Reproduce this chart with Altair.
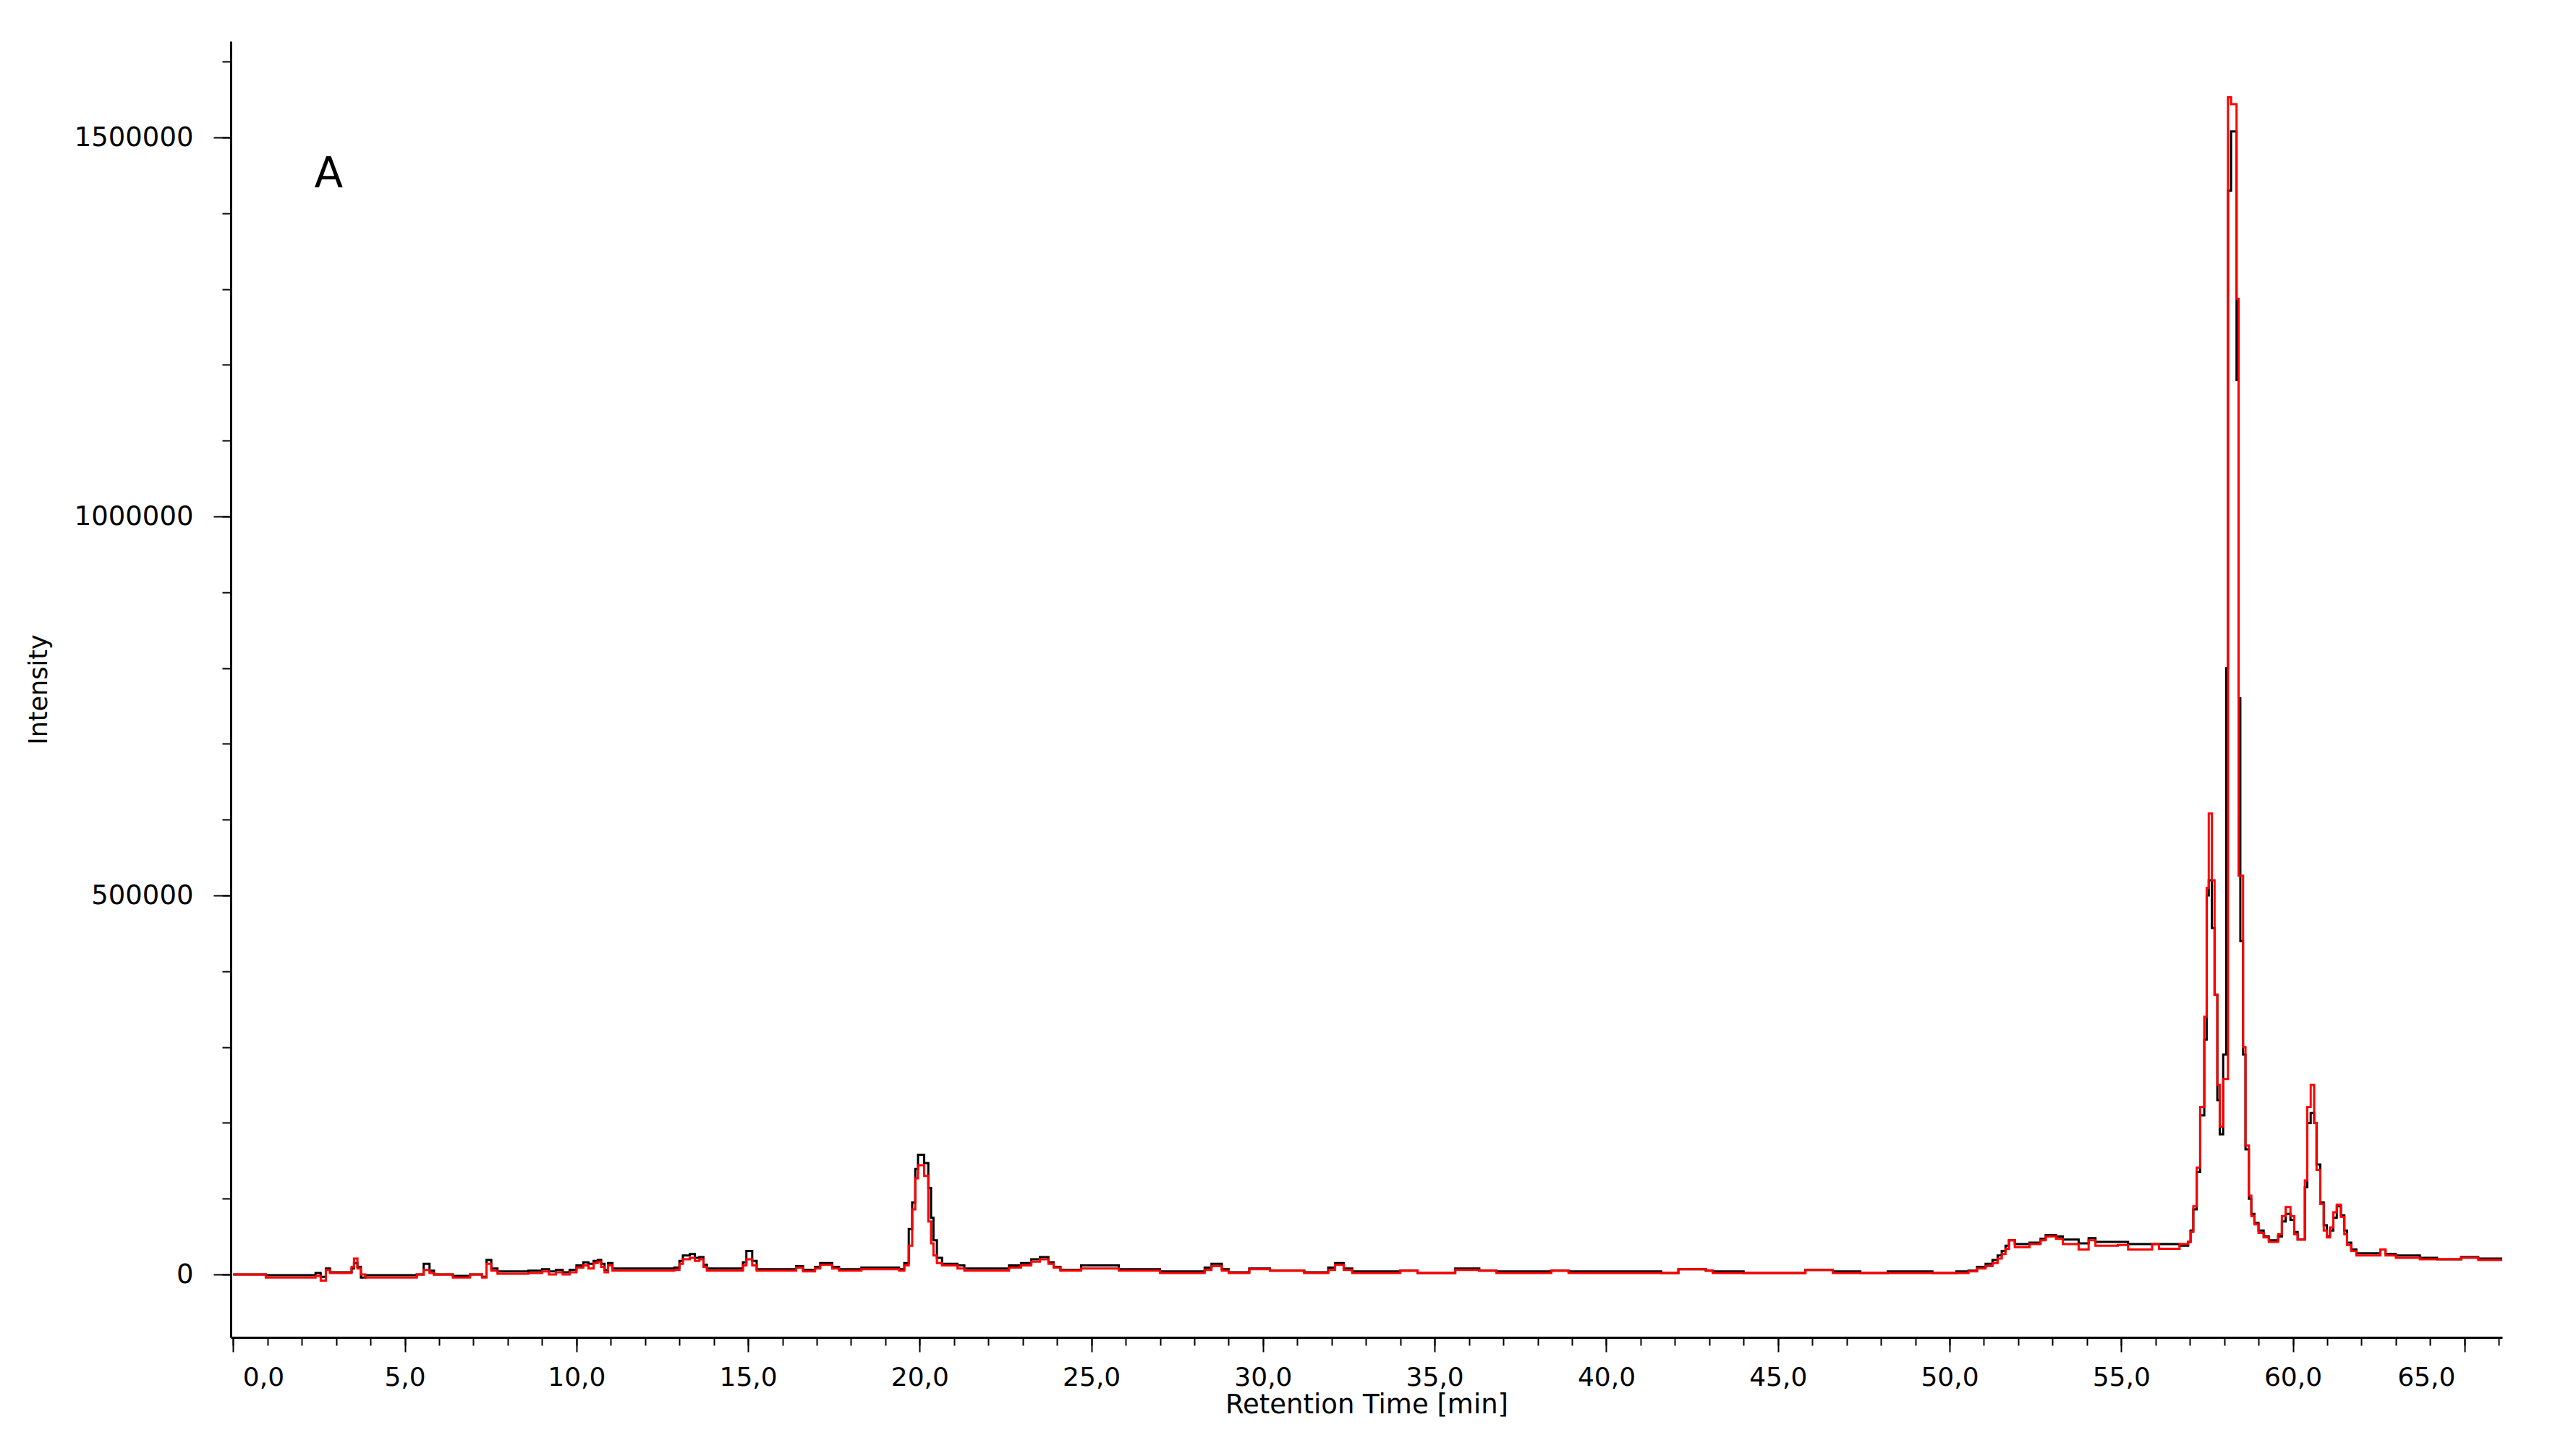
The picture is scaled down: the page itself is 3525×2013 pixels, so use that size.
import altair as alt
import pandas as pd

# Retention time (min) of each step start
time_min = [
    0.00, 0.95, 2.40, 2.55, 2.70, 2.82, 3.45, 3.52, 3.62, 3.72, 3.85, 5.35, 5.55, 5.72, 5.85,
    6.40, 6.90, 7.25, 7.38, 7.52, 7.70, 8.60, 9.00, 9.20, 9.40, 9.60, 9.80, 10.00, 10.20, 10.35,
    10.50, 10.62, 10.72, 10.82, 10.92, 11.05, 12.85, 13.00, 13.10, 13.30, 13.45, 13.58, 13.70, 13.80, 14.85,
    14.95, 15.12, 15.25, 16.40, 16.60, 16.95, 17.10, 17.45, 17.65, 18.30, 19.40, 19.55, 19.68, 19.78, 19.87,
    19.95, 20.13, 20.25, 20.33, 20.40, 20.50, 20.65, 21.10, 21.30, 22.60, 22.95, 23.25, 23.50, 23.75, 23.90,
    24.10, 24.70, 25.80, 27.00, 28.30, 28.50, 28.80, 29.00, 29.60, 30.20, 31.20, 31.90, 32.10, 32.35, 32.60,
    34.00, 34.50, 35.60, 36.30, 36.80, 38.40, 38.90, 41.60, 42.10, 42.90, 43.10, 44.00, 45.80, 46.60, 47.40,
    48.20, 49.50, 50.20, 50.55, 50.80, 51.05, 51.25, 51.40, 51.52, 51.63, 51.73, 51.90, 52.33, 52.65, 52.80,
    53.10, 53.30, 53.76, 54.05, 54.25, 54.90, 55.20, 55.90, 56.10, 56.70, 56.95, 57.02, 57.10, 57.20, 57.30,
    57.42, 57.49, 57.55, 57.64, 57.72, 57.80, 57.87, 57.97, 58.06, 58.11, 58.20, 58.36, 58.42, 58.47, 58.55,
    58.62, 58.72, 58.79, 58.88, 59.00, 59.15, 59.30, 59.57, 59.68, 59.79, 59.93, 60.04, 60.14, 60.35, 60.42,
    60.52, 60.62, 60.69, 60.80, 60.90, 60.99, 61.08, 61.18, 61.28, 61.40, 61.50, 61.58, 61.70, 61.85, 62.55,
    62.70, 63.00, 63.70, 64.20, 64.90, 65.40, 66.10,
]

# Red trace intensity
red_intensity = [
    0, -4000, -2000, -8000, 6000, 2000, 10000, 21000, 8000, 0, -4000, 0, 6000, 2000, 0,
    -4000, 0, -4000, 14000, 5000, 1000, 2000, 4000, 0, 3000, 0, 3000, 9000, 12000, 8000,
    15000, 17000, 10000, 3000, 12000, 5000, 6000, 14000, 20000, 22000, 18000, 20000, 10000, 5000, 12000,
    20000, 12000, 5000, 9000, 4000, 8000, 13000, 8000, 5000, 7000, 5000, 12000, 38000, 86000, 127000,
    144000, 130000, 70000, 41000, 25000, 15000, 12000, 8000, 5000, 9000, 12000, 17000, 20000, 14000, 9000,
    5000, 8000, 5000, 2000, 6000, 11000, 5000, 2000, 7000, 5000, 2000, 6000, 13000, 6000, 2000,
    5000, 2000, 6000, 5000, 2000, 5000, 2000, 2000, 7000, 5000, 2000, 2000, 6000, 2000, 2000,
    2000, 2000, 2000, 4000, 8000, 11000, 15000, 21000, 27000, 34000, 45000, 36000, 40000, 45000, 50000,
    47000, 40000, 33000, 45000, 38000, 39000, 33000, 40000, 34000, 40000, 43000, 56000, 90000, 141000, 221000,
    340000, 510000, 608000, 520000, 369000, 250000, 195000, 258000, 258000, 1553000, 1544000, 1287000, 526000, 526000, 300000,
    170000, 104000, 77000, 66000, 55000, 49000, 43000, 53000, 77000, 89000, 77000, 53000, 46000, 124000, 221000,
    250000, 200000, 138000, 93000, 58000, 49000, 62000, 82000, 92000, 76000, 53000, 39000, 31000, 25000, 33000,
    25000, 22000, 20000, 20000, 22000, 19000, 19000,
]

# Black trace intensity
black_intensity = [
    0, -1000, 2000, -3000, 8000, 3000, 8000, 15000, 10000, -4000, -1000, 0, 14000, 5000, 0,
    -2000, 0, -3000, 19000, 8000, 4000, 5000, 7000, 4000, 6000, 3000, 6000, 12000, 16000, 14000,
    18000, 19000, 14000, 6000, 15000, 8000, 9000, 18000, 25000, 27000, 22000, 23000, 13000, 8000, 16000,
    31000, 18000, 7000, 11000, 6000, 10000, 15000, 10000, 7000, 9000, 7000, 15000, 60000, 95000, 139000,
    158000, 147000, 114000, 75000, 45000, 22000, 14000, 12000, 8000, 12000, 15000, 20000, 23000, 16000, 10000,
    6000, 12000, 7000, 4000, 9000, 14000, 7000, 3000, 8000, 5000, 3000, 9000, 15000, 8000, 4000,
    5000, 2000, 8000, 5000, 4000, 5000, 4000, 2000, 7000, 5000, 4000, 2000, 6000, 4000, 2000,
    4000, 2000, 4000, 5000, 10000, 14000, 19000, 25000, 31000, 38000, 45000, 40000, 42000, 47000, 52000,
    50000, 46000, 41000, 48000, 43000, 43000, 40000, 40000, 40000, 38000, 43000, 58000, 86000, 135000, 210000,
    310000, 500000, 520000, 457000, 369000, 230000, 185000, 290000, 800000, 1430000, 1508000, 1180000, 760000, 440000, 290000,
    165000, 100000, 80000, 68000, 58000, 50000, 45000, 50000, 70000, 80000, 72000, 56000, 46000, 115000, 200000,
    213000, 200000, 145000, 95000, 65000, 50000, 58000, 75000, 90000, 78000, 58000, 42000, 33000, 28000, 33000,
    27000, 25000, 22000, 20000, 23000, 21000, 21000,
]

assert len(time_min) == len(red_intensity) == len(black_intensity)

x_major_ticks = list(range(0, 70, 5))
x_minor_ticks = list(range(0, 67))
y_major_ticks = [0, 500000, 1000000, 1500000]
y_minor_ticks = list(range(0, 1700000, 100000))

x_domain = [-0.07, 66.1]
y_domain = [-83000, 1627000]

annot_text = ["A"]
annot_time = [2.78]
annot_intensity = [1450000]

df = pd.DataFrame(
    {
        "t": time_min + time_min,
        "intensity": black_intensity + red_intensity,
        "trace": ["black"] * len(time_min) + ["red"] * len(time_min),
    }
)
annot = pd.DataFrame({"label": annot_text, "t": annot_time, "intensity": annot_intensity})

FONT = "DejaVu Sans"
xs = alt.Scale(domain=x_domain, nice=False, zero=False)
ys = alt.Scale(domain=y_domain, nice=False, zero=False)

x_major = alt.Axis(
    orient="bottom", values=x_major_ticks,
    labelExpr="replace(format(datum.value, '.1f'), '.', ',')",
    title="Retention Time [min]", grid=False,
    domainColor="black", domainWidth=3, tickColor="black", tickWidth=2, tickSize=20,
    labelColor="black", labelFont=FONT, labelFontSize=36, labelPadding=18,
    labelFlush=60, labelFlushOffset=-13, labelOverlap=False,
    titleColor="black", titleFont=FONT, titleFontSize=37, titleFontWeight="normal", titlePadding=2,
)
x_minor = alt.Axis(
    orient="bottom", values=x_minor_ticks, labels=False, domain=False, grid=False,
    tickColor="black", tickWidth=2, tickSize=11, title="",
)
y_major = alt.Axis(
    orient="left", values=y_major_ticks, format="d", title="Intensity", grid=False,
    domainColor="black", domainWidth=3, tickColor="black", tickWidth=2, tickSize=24,
    labelColor="black", labelFont=FONT, labelFontSize=37, labelPadding=28, labelOverlap=False,
    titleColor="black", titleFont=FONT, titleFontSize=35, titleFontWeight="normal", titlePadding=48,
)
y_minor = alt.Axis(
    orient="left", values=y_minor_ticks, labels=False, domain=False, grid=False,
    tickColor="black", tickWidth=2, tickSize=12, title="",
)

base = alt.Chart(df)

minor_layer = base.transform_filter(alt.datum.trace == "black").mark_line(strokeOpacity=0).encode(
    x=alt.X("t:Q", scale=xs, axis=x_minor),
    y=alt.Y("intensity:Q", scale=ys, axis=y_minor),
)

black_layer = base.transform_filter(alt.datum.trace == "black").mark_line(
    color="black", strokeWidth=3, interpolate="step-after"
).encode(
    x=alt.X("t:Q", scale=xs, axis=x_major),
    y=alt.Y("intensity:Q", scale=ys, axis=y_major),
)

red_layer = base.transform_filter(alt.datum.trace == "red").mark_line(
    color="#ff0000", strokeWidth=3, interpolate="step-after"
).encode(
    x=alt.X("t:Q", scale=xs, axis=None),
    y=alt.Y("intensity:Q", scale=ys, axis=None),
)

text_layer = alt.Chart(annot).mark_text(
    font=FONT, fontSize=58, color="black", align="center", baseline="middle"
).encode(
    x=alt.X("t:Q", scale=xs, axis=None),
    y=alt.Y("intensity:Q", scale=ys, axis=None),
    text="label:N",
)

chart = (
    alt.layer(minor_layer, black_layer, red_layer, text_layer)
    .resolve_axis(x="independent", y="independent")
    .properties(
        width=3140,
        height=1792,
        autosize=alt.AutoSizeParams(type="none"),
        padding={"left": 311, "top": 49, "right": 40, "bottom": 140},
        background="white",
    )
    .configure_view(stroke=None)
)

chart.save("out.html", embed_options={"renderer": "svg", "actions": False})
